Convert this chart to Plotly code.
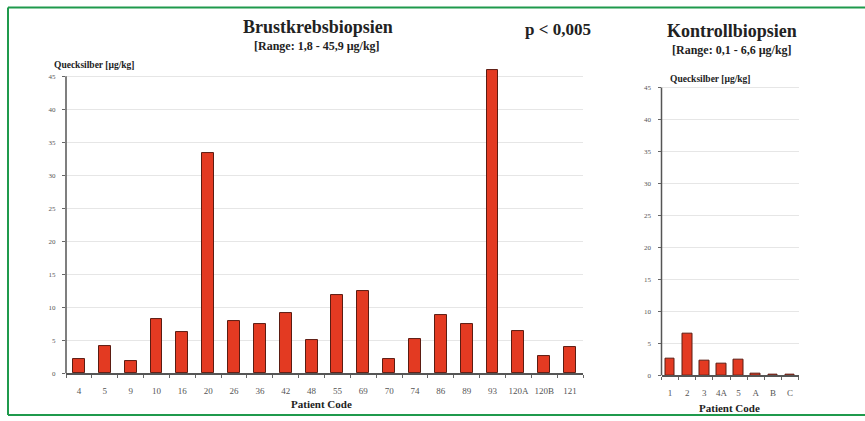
import plotly.graph_objects as go

W, H = 865, 421

# Breast cancer biopsies
cancer_codes = ["4", "5", "9", "10", "16", "20", "26", "36", "42", "48",
                "55", "69", "70", "74", "86", "89", "93", "120A", "120B", "121"]
cancer_hg = [2.2, 4.2, 1.8, 8.3, 6.2, 33.4, 7.9, 7.4, 9.1, 5.0,
             11.9, 12.4, 2.2, 5.2, 8.9, 7.5, 45.9, 6.4, 2.7, 4.0]

# Control biopsies
control_codes = ["1", "2", "3", "4A", "5", "A", "B", "C"]
control_hg = [2.6, 6.6, 2.3, 1.9, 2.5, 0.2, 0.1, 0.1]

y_ticks = [0, 5, 10, 15, 20, 25, 30, 35, 40, 45]
Y_TOP = 47  # a little headroom so the tallest bar is not cut off at 45

BAR = "#e33a22"
EDGE = "#5b1c12"
SERIF = "Liberation Serif"
AXIS = "#555555"


def px(x):
    return x / W


def py(y):
    return 1 - y / H


fig = go.Figure()
fig.add_trace(go.Bar(x=cancer_codes, y=cancer_hg, width=0.46,
                     marker=dict(color=BAR, line=dict(color=EDGE, width=1)),
                     xaxis="x", yaxis="y", showlegend=False))
fig.add_trace(go.Bar(x=control_codes, y=control_hg, width=0.56,
                     marker=dict(color=BAR, line=dict(color=EDGE, width=1)),
                     xaxis="x2", yaxis="y2", showlegend=False))

yaxis_common = dict(range=[0, Y_TOP], tickvals=y_ticks, showline=False,
                    ticks="outside", ticklen=3, tickcolor="#666666",
                    ticklabelstandoff=5, showgrid=True, gridcolor="#e6e6e6",
                    zeroline=False, tickfont=dict(family=SERIF, size=7, color=AXIS))
xaxis_common = dict(type="category", tickson="boundaries", showgrid=False,
                    showline=True, linecolor=AXIS, linewidth=1.5,
                    ticks="outside", ticklen=3, tickcolor="#666666",
                    tickangle=0, ticklabelstandoff=8,
                    tickfont=dict(family=SERIF, size=9, color=AXIS))


def domain_top(zero_px, top45_px):
    scale = (zero_px - top45_px) / 45.0
    return py(zero_px - Y_TOP * scale)


fig.update_layout(
    width=W, height=H, margin=dict(l=0, r=0, t=0, b=0),
    paper_bgcolor="white", plot_bgcolor="white", bargap=0,
    xaxis=dict(domain=[px(66), px(583)], anchor="y", **xaxis_common),
    yaxis=dict(domain=[py(377), domain_top(377, 77)], anchor="x", **yaxis_common),
    xaxis2=dict(domain=[px(661.5), px(798.6)], anchor="y2", **xaxis_common),
    yaxis2=dict(domain=[py(379), domain_top(379, 88.3)], anchor="x2", **yaxis_common),
)

# vertical axis lines running from 0 up to 45
for xr, yr in (("x domain", "y"), ("x2 domain", "y2")):
    fig.add_shape(type="line", xref=xr, yref=yr, x0=0, x1=0, y0=0, y1=45,
                  line=dict(color=AXIS, width=1.5))

texts = [
    ("Brustkrebsbiopsien", 318, 27, 18, "center"),
    ("[Range: 1,8 - 45,9 µg/kg]", 317, 46, 12, "center"),
    ("p < 0,005", 558, 30, 17, "center"),
    ("Kontrollbiopsien", 732, 31, 18, "center"),
    ("[Range: 0,1 - 6,6 µg/kg]", 732, 50, 12, "center"),
    ("Quecksilber [µg/kg]", 52, 66, 9.5, "left"),
    ("Quecksilber [µg/kg]", 668, 80, 9.5, "left"),
    ("Patient Code", 321, 408, 11, "center"),
    ("Patient Code", 729, 412, 11, "center"),
]
for t, x, y, s, anchor in texts:
    fig.add_annotation(text="<b>%s</b>" % t, x=px(x), y=py(y), xref="paper", yref="paper",
                       showarrow=False, xanchor=anchor, yanchor="middle",
                       font=dict(family=SERIF, size=s, color="#222222"))

# green frame, open on the right side
frame = dict(color="#1f9a4c", width=2)
fig.add_shape(type="line", xref="paper", yref="paper", x0=px(8), x1=1.01, y0=py(7.5), y1=py(7.5), line=frame)
fig.add_shape(type="line", xref="paper", yref="paper", x0=px(8), x1=1.01, y0=py(419), y1=py(419), line=frame)
fig.add_shape(type="line", xref="paper", yref="paper", x0=px(8), x1=px(8), y0=py(7.5), y1=py(419), line=frame)

fig.write_html("out.html")
